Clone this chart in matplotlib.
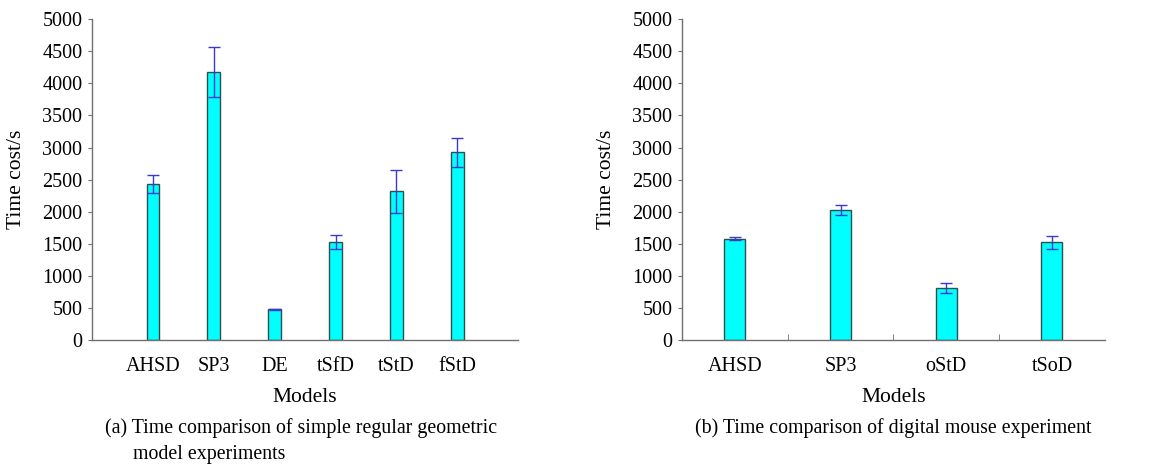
import numpy as np
import matplotlib.pyplot as plt

plt.rcParams['font.family'] = ['Liberation Serif', 'DejaVu Serif']

# (a) simple regular geometric model experiments
models_a = ["AHSD", "SP3", "DE", "tSfD", "tStD", "fStD"]
time_a = [2430, 4180, 478, 1530, 2320, 2925]
err_a = [135, 390, 15, 105, 335, 230]

# (b) digital mouse experiment
models_b = ["AHSD", "SP3", "oStD", "tSoD"]
time_b = [1580, 2025, 820, 1522]
err_b = [25, 75, 78, 95]

fig = plt.figure(figsize=(11.55, 4.66), dpi=100)
ax1 = fig.add_axes([0.0797, 0.270, 0.369, 0.689])
ax2 = fig.add_axes([0.5905, 0.270, 0.366, 0.689])

bar_col = "#00ffff"
edge_col = "#2f4f4f"
err_col = "#3a3ad0"


def style(ax):
    ax.spines["top"].set_visible(False)
    ax.spines["right"].set_visible(False)
    for s in ["left", "bottom"]:
        ax.spines[s].set_color("#707070")
        ax.spines[s].set_linewidth(1.0)
    ax.set_ylim(0, 5000)
    ax.set_yticks(np.arange(0, 5001, 500))
    ax.tick_params(axis="y", direction="out", length=3, color="#707070",
                   labelsize=14.5, pad=4)
    ax.set_ylabel("Time cost/s", fontsize=15.5, labelpad=12)
    ax.set_xlabel("Models", fontsize=15.5, labelpad=9)


# left panel: bars sit at 1..6 in a 0..7 range
xa = np.arange(1, len(models_a) + 1)
ax1.bar(xa, time_a, width=0.21, color=bar_col, edgecolor=edge_col, linewidth=1)
ax1.errorbar(xa, time_a, yerr=err_a, fmt="none", ecolor=err_col,
             elinewidth=1, capsize=4, capthick=1)
ax1.set_xlim(0, 7)
ax1.set_xticks(xa)
ax1.set_xticklabels(models_a)
ax1.tick_params(axis="x", length=0, labelsize=14.5, pad=12)
style(ax1)

# right panel
xb = np.arange(len(models_b)) + 0.5
ax2.bar(xb, time_b, width=0.2, color=bar_col, edgecolor=edge_col, linewidth=1)
ax2.errorbar(xb, time_b, yerr=err_b, fmt="none", ecolor=err_col,
             elinewidth=1, capsize=4, capthick=1)
ax2.set_xlim(0, 4)
ax2.set_xticks(xb)
ax2.set_xticklabels(models_b)
ax2.set_xticks([1, 2, 3], minor=True)
ax2.tick_params(axis="x", which="major", length=0, labelsize=14.5, pad=12)
ax2.tick_params(axis="x", which="minor", direction="in", length=4, color="#707070")
style(ax2)

fig.text(105 / 1155, 1 - 428 / 466, "(a) Time comparison of simple regular geometric",
         fontsize=14.3, va="center", ha="left")
fig.text(133 / 1155, 1 - 455 / 466, "model experiments",
         fontsize=14.3, va="center", ha="left")
fig.text(695 / 1155, 1 - 428 / 466, "(b) Time comparison of digital mouse experiment",
         fontsize=14.3, va="center", ha="left")

fig.savefig("out.png", dpi=100)
